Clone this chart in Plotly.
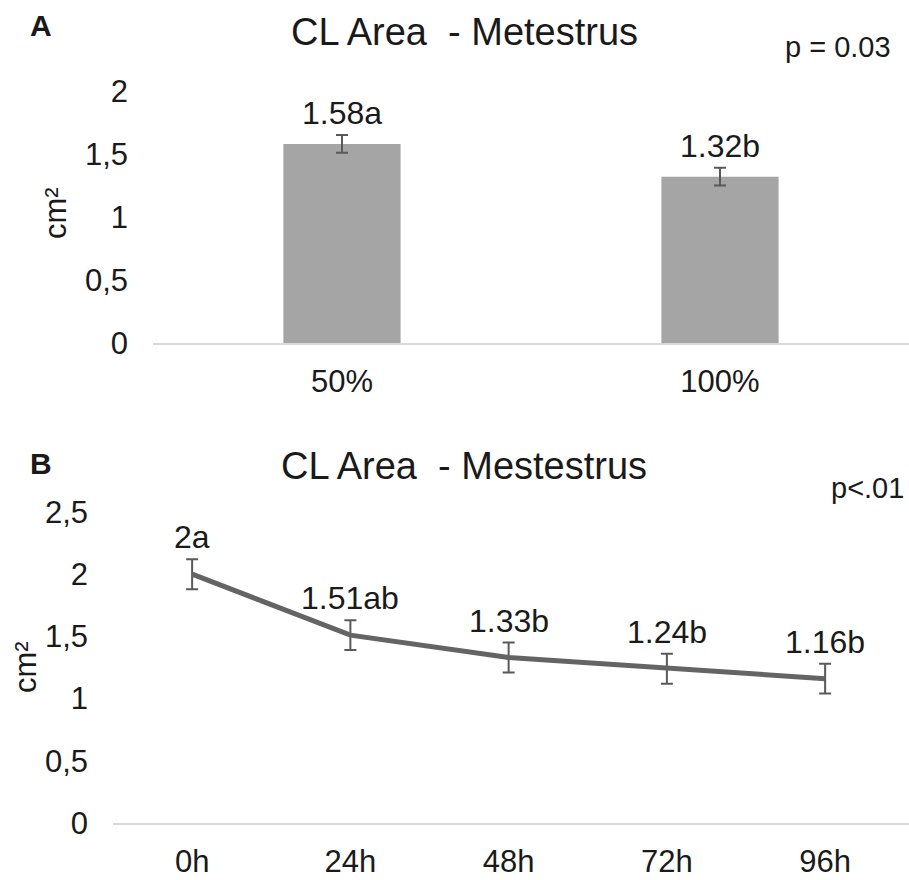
import plotly.graph_objects as go

# Panel A: CL area at metestrus by treatment
a_categories = ["50%", "100%"]
a_values = [1.58, 1.32]
a_errors = [0.07, 0.07]
a_letters = ["a", "b"]

# Panel B: CL area over time
b_categories = ["0h", "24h", "48h", "72h", "96h"]
b_values = [2.0, 1.51, 1.33, 1.24, 1.16]
b_errors = [0.12, 0.12, 0.12, 0.12, 0.12]
b_letters = ["a", "ab", "b", "b", "b"]

a_ticks = [0, 0.5, 1, 1.5, 2]
b_ticks = [0, 0.5, 1, 1.5, 2, 2.5]


def comma(v):
    return f"{v:g}".replace(".", ",")


FONT = "Liberation Sans"
TXT = "#1a1a1a"
W, H = 909, 880

fig = go.Figure()

fig.add_trace(go.Bar(
    x=a_categories, y=a_values, width=0.31,
    marker=dict(color="#a5a5a5", line=dict(width=0)),
    error_y=dict(type="data", array=a_errors, color="#595959", thickness=2, width=6),
    xaxis="x", yaxis="y", showlegend=False,
))

fig.add_trace(go.Scatter(
    x=b_categories, y=b_values, mode="lines",
    line=dict(color="#646464", width=5),
    error_y=dict(type="data", array=b_errors, color="#595959", thickness=2, width=6),
    xaxis="x2", yaxis="y2", showlegend=False,
))

annotations = []
for c, v, l in zip(a_categories, a_values, a_letters):
    annotations.append(dict(x=c, y=v, xref="x", yref="y", text=f"{v:g}{l}",
                            showarrow=False, yshift=31,
                            font=dict(family=FONT, size=32, color=TXT)))
for c, v, l in zip(b_categories, b_values, b_letters):
    annotations.append(dict(x=c, y=v, xref="x2", yref="y2", text=f"{v:g}{l}",
                            showarrow=False, yshift=37,
                            font=dict(family=FONT, size=32, color=TXT)))


def px(x, y, text, size, bold=False, angle=0, xanchor="center"):
    t = f"<b>{text}</b>" if bold else text
    return dict(x=x / W, y=1 - y / H, xref="paper", yref="paper", text=t,
                showarrow=False, textangle=angle, xanchor=xanchor, yanchor="middle",
                font=dict(family=FONT, size=size, color=TXT))


annotations += [
    px(41, 26, "A", 30, bold=True),
    px(464, 32, "CL Area  - Metestrus", 38),
    px(893, 47, "p = 0.03", 29, xanchor="right"),
    px(55, 213, "cm²", 31, angle=-90),
    px(41, 463, "B", 30, bold=True),
    px(464, 466, "CL Area  - Mestestrus", 38),
    px(906, 488, "p<.01", 29, xanchor="right"),
    px(25, 667, "cm²", 31, angle=-90),
]

axis_font = dict(family=FONT, size=31, color=TXT)

fig.update_layout(
    width=W, height=H,
    margin=dict(l=0, r=0, t=0, b=0),
    paper_bgcolor="white", plot_bgcolor="white",
    annotations=annotations,
    xaxis=dict(domain=[153 / W, 1.0], range=[-0.5, 1.5], showline=True,
               linecolor="#d9d9d9", linewidth=2, showgrid=False, zeroline=False,
               ticks="", tickfont=axis_font, ticklabelstandoff=10, anchor="y",
               automargin=False),
    yaxis=dict(domain=[1 - 343 / H, 1 - 91 / H], range=[0, 2], showgrid=False,
               zeroline=False, showline=False, tickvals=a_ticks,
               ticktext=[comma(t) for t in a_ticks], tickfont=axis_font,
               ticklabelstandoff=24, anchor="x", automargin=False),
    xaxis2=dict(domain=[113 / W, 1.0], range=[-0.5, 4.53], showline=True,
                linecolor="#d9d9d9", linewidth=2, showgrid=False, zeroline=False,
                ticks="", tickfont=axis_font, ticklabelstandoff=10, anchor="y2",
                automargin=False),
    yaxis2=dict(domain=[1 - 823 / H, 1 - 512 / H], range=[0, 2.5], showgrid=False,
                zeroline=False, showline=False, tickvals=b_ticks,
                ticktext=[comma(t) for t in b_ticks], tickfont=axis_font,
                ticklabelstandoff=24, anchor="x2", automargin=False),
)

fig.write_html("out.html")
